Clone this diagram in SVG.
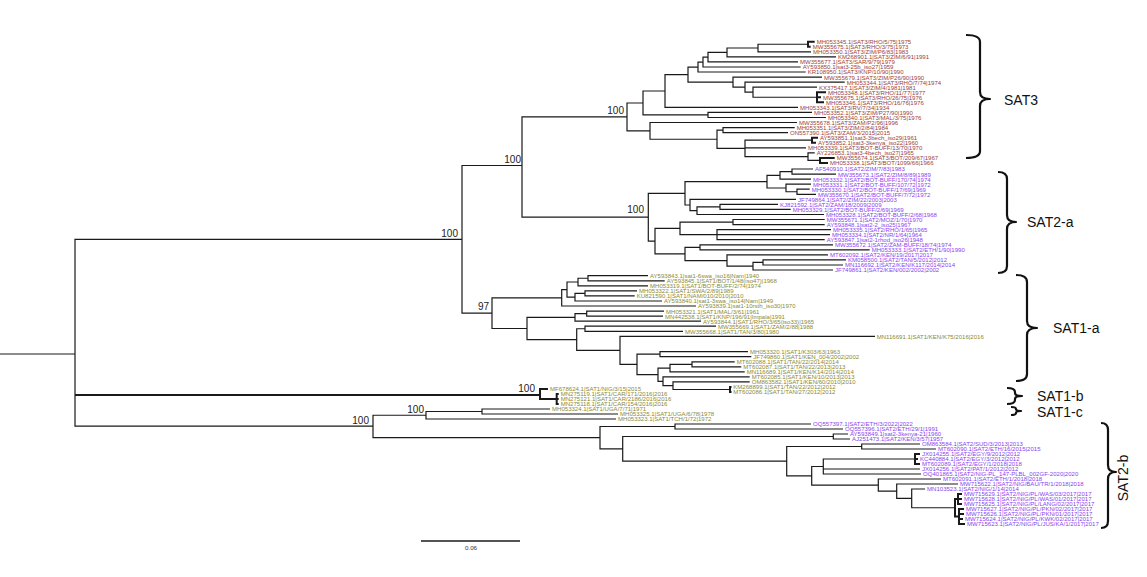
<svg xmlns="http://www.w3.org/2000/svg" width="1147" height="577" viewBox="0 0 1147 577">
<style>
.e{fill:none;stroke:#1a1a1a;stroke-width:1.2}
.t{fill:none;stroke:#1a1a1a;stroke-width:2}
.br{fill:none;stroke:#111;stroke-width:2.2;stroke-linejoin:round}
text{font-family:"Liberation Sans",Arial,sans-serif}
.l{font-size:6.05px}
.s3{fill:#9b3f3a}
.s2{fill:#8a44f0}
.s1{fill:#8c8a34}
.bs{font-size:10px;fill:#222;text-anchor:end}
.cl{font-size:14px;fill:#111}
.sc{font-size:6.2px;fill:#333;text-anchor:middle}
</style>
<rect width="1147" height="577" fill="#fff"/>
<g id="connectors">
<path class="e" d="M0 354H75M462 239.3H75V426.2H373"/>
<path class="t" d="M75 395H540"/>
<path class="e" d="M522 165.5H462V313.15H492M627 116.95H522V217.2H648.3"/>
<!-- SAT3 -->
<path class="e" d="M643 103H627V130.9H650M665 91H643V114.95H708M688 74.6H665V107.4H798M698 67.05H688V82.1H733M703 62.1H698V72H805.7M708 57.2H703V67H800.7M727 52.45H708V61.9H798M758 48H727V56.9H836M808 44.25H758V51.8H811"/>
<path class="t" d="M814.7 41.7H808V46.8H810.7"/>
<path class="e" d="M822 77.1H733V87.15H745M844.7 82.1H745V92.2H753M817 87.2H753V97.25H817M812 112.4H708V117.5H826"/>
<path class="t" d="M826 92.2H817V102.3H824M817 97.3H821"/>
<path class="e" d="M797 122.5H650V139.25H717M723 130.1H717V148.4H745M794.7 127.6H723V132.6H788M812 140.2H745V156.6H808M745 147.8H806M814.7 152.8H808V160.4H820"/>
<path class="t" d="M818 137.7H812V142.7H816M834.7 157.9H820V162.9H828"/>
<!-- SAT2-a -->
<path class="e" d="M685 193.3H648.3V241.15H655M680 228.4H655V253.9H685M767 181.65H685V205H690M780 175.3H767V188H786M792 171.55H780V179.1H811M813 169H792V174.1H836M811 184.2H786V191.75H797M809.7 189.2H797V194.3H816M796 199.3H690V210.7H697M720 206.9H697V214.5H824M778 204.4H720V209.4H790.7"/>
<path class="e" d="M733 222.05H680V234.7H717M824.7 219.5H733V224.6H824.7M831 229.6H717V239.7H824.7M717 234.7H830M700 247.3H685V260.55H727M833 244.8H700V249.8H869.7M828 254.9H727V266.2H753M763 262.45H753V270H833M846 259.9H763V265H843"/>
<!-- SAT1-a -->
<path class="e" d="M561.7 297.8H492V328.5H527M567 289.6H561.7V306H696M578 282H567V297.2H575M588 278.25H578V285.8H648M648 275.7H588V280.8H664.7M585 293.4H575V301H662M637 290.9H585V295.9H634.7"/>
<path class="e" d="M575 317.4H527V339.6H576.7M586.7 313.6H575V321.2H701M664 311.1H586.7V316.1H663M585 328.75H576.7V350.4H620M716 326.2H585V331.3H683M875 336.3H620V364.45H637"/>
<path class="e" d="M660 354.2H637V374.7H658M748 351.7H660V356.7H751.3M670 368.1H658V381.3H663M692 364.3H670V371.9H744.7M734.7 361.8H692V366.8H741.3M749.7 376.9H663V385.7H673M749.7 381.9H673V389.5H730"/>
<path class="t" d="M731.5 387H730V392H731.5"/>
<!-- SAT1-b / SAT1-c -->
<path class="t" d="M548 389H540V399H556.7"/>
<path class="t" d="M558.7 394H556.7V404H558.7M556.7 399H558.7"/>
<path class="e" d="M426 415.25H373V437.7H600M482 411.5H426V419H616M550 409H482V414H618"/>
<!-- SAT2-b -->
<path class="e" d="M675 426.5H600V448.9H622.7M811 424H675V429H843M833.3 436.5H622.7V461.2H786.7M848 434H833.3V439H850M861.7 446.5H786.7V475.8H811.7M920 444H861.7V449H936M823.3 466.5H811.7V485.1H878.3M915 459H823.3V474H921M823.3 469H920"/>
<path class="t" d="M920 454H915V464H920M915 459H918"/>
<path class="e" d="M941 479H878.3V491.2H896.7M958 484H896.7V498.4H911.7M925 489H911.7V507.75H955"/>
<path class="t" d="M958 499H955V516.5H959M962 494H958V504H962M958 499H962M964 509H959V524H965M959 514H964M959 519H963"/>
</g>
<g id="support">
<text class="bs" x="458" y="236.5">100</text>
<text class="bs" x="521" y="162.5">100</text>
<text class="bs" x="624" y="114">100</text>
<text class="bs" x="644" y="213">100</text>
<text class="bs" x="489" y="309.5">97</text>
<text class="bs" x="535" y="392">100</text>
<text class="bs" x="424" y="412.5">100</text>
<text class="bs" x="369" y="424">100</text>
</g>
<g id="sat3-leaves" class="l s3">
<g id="leaf01"><text x="816.7" y="44.1">MH053345.1|SAT3/RHO/5/75|1975</text></g>
<g id="leaf02"><text x="812.7" y="49.2">MW355675.1|SAT3/RHO/3/75|1973</text></g>
<g id="leaf03"><text x="813" y="54.2">MH053350.1|SAT3/ZIM/P6/83|1983</text></g>
<g id="leaf04"><text x="838" y="59.3">KM268901.1|SAT3/ZIM/6/91|1991</text></g>
<g id="leaf05"><text x="800" y="64.3">MW355677.1|SAT3/SAR/9/79|1979</text></g>
<g id="leaf06"><text x="802.7" y="69.4">AY593850.1|sat3-25b_iso27|1959</text></g>
<g id="leaf07"><text x="807.7" y="74.4">KR108950.1|SAT3/KNP/10/90|1990</text></g>
<g id="leaf08"><text x="824" y="79.5">MW355679.1|SAT3/ZIM/P26/90|1990</text></g>
<g id="leaf09"><text x="846.7" y="84.5">MH053344.1|SAT3/RHO/7/74|1974</text></g>
<g id="leaf10"><text x="819" y="89.6">KX375417.1|SAT3/ZIM/4/1981|1981</text></g>
<g id="leaf11"><text x="828" y="94.6">MH053348.1|SAT3/RHO/11/77|1977</text></g>
<g id="leaf12"><text x="823" y="99.7">MW355675.1|SAT3/RHO/26/75|1976</text></g>
<g id="leaf13"><text x="826" y="104.7">MH053346.1|SAT3/RHO/16/76|1976</text></g>
<g id="leaf14"><text x="800" y="109.8">MH053343.1|SAT3/RV/7/34|1934</text></g>
<g id="leaf15"><text x="814" y="114.8">MH053352.1|SAT3/ZIM/P27/90|1990</text></g>
<g id="leaf16"><text x="828" y="119.9">MH053340.1|SAT3/MAL/3/75|1976</text></g>
<g id="leaf17"><text x="799" y="124.9">MW355678.1|SAT3/ZAM/P2/96|1996</text></g>
<g id="leaf18"><text x="796.7" y="130">MH053351.1|SAT3/ZIM/2/84|1984</text></g>
<g id="leaf19"><text x="790" y="135">ON557390.1|SAT3/ZAM/3/2015|2015</text></g>
<g id="leaf20"><text x="820" y="140.1">AY593851.1|sat3-3bech_iso29|1961</text></g>
<g id="leaf21"><text x="818" y="145.1">AY593852.1|sat3-3kenya_iso22|1960</text></g>
<g id="leaf22"><text x="808" y="150.2">MH053339.1|SAT3/BOT-BUFF/13/70|1970</text></g>
<g id="leaf23"><text x="816.7" y="155.2">AY226853.1|sat3-4bech_iso27|1965</text></g>
<g id="leaf24"><text x="836.7" y="160.3">MW355674.1|SAT3/BOT/209/67|1967</text></g>
<g id="leaf25"><text x="830" y="165.3">MH053338.1|SAT3/BOT/1099/66|1966</text></g>
</g>
<g id="sat2a-leaves" class="l s2">
<g id="leaf26"><text x="815" y="171.4">AF540910.1|SAT2/ZIM/7/83|1983</text></g>
<g id="leaf27"><text x="838" y="176.5">MW355673.1|SAT2/ZIM/8/89|1989</text></g>
<g id="leaf28"><text x="813" y="181.5">MH053332.1|SAT2/BOT-BUFF/170/74|1974</text></g>
<g id="leaf29"><text x="813" y="186.6">MH053331.1|SAT2/BOT-BUFF/107/72|1972</text></g>
<g id="leaf30"><text x="811.7" y="191.6">MH053330.1|SAT2/BOT-BUFF/17/69|1969</text></g>
<g id="leaf31"><text x="818" y="196.7">MW355670.1|SAT2/BOT-BUFF/7/72|1972</text></g>
<g id="leaf32"><text x="798" y="201.7">JF749864.1|SAT2/ZIM/22/2003|2003</text></g>
<g id="leaf33"><text x="780" y="206.8">KJ821592.1|SAT2/ZAM/18/2009|2009</text></g>
<g id="leaf34"><text x="792.7" y="211.8">MH053329.1|SAT2/BOT-BUFF/2/69|1969</text></g>
<g id="leaf35"><text x="826" y="216.9">MH053328.1|SAT2/BOT-BUFF/2/68|1968</text></g>
<g id="leaf36"><text x="826.7" y="221.9">MW355671.1|SAT2/MOZ/1/70|1970</text></g>
<g id="leaf37"><text x="826.7" y="227">AY593848.1|sat2-2_iso25|1967</text></g>
<g id="leaf38"><text x="833" y="232">MH053335.1|SAT2/RHO/1/65|1965</text></g>
<g id="leaf39"><text x="832" y="237.1">MH053334.1|SAT2/NR/1/64|1964</text></g>
<g id="leaf40"><text x="826.7" y="242.1">AY593847.1|sat2-1rhod_iso26|1948</text></g>
<g id="leaf41"><text x="835" y="247.2">MW355672.1|SAT2/ZAM-BUFF/18/74|1974</text></g>
<g id="leaf42"><text x="871.7" y="252.2">MH053333.1|SAT2/ETH/1/90|1990</text></g>
<g id="leaf43"><text x="830" y="257.3">MT602092.1|SAT2/KEN/19/2017|2017</text></g>
<g id="leaf44"><text x="848" y="262.3">KM058500.1|SAT2/TAN/5/2012|2012</text></g>
<g id="leaf45"><text x="845" y="267.4">MN116692.1|SAT2/KEN/K117/2014|2014</text></g>
<g id="leaf46"><text x="835" y="272.4">JF749861.1|SAT2/KEN/002/2002|2002</text></g>
</g>
<g id="sat1a-leaves" class="l s1">
<g id="leaf47"><text x="650" y="278.1">AY593843.1|sat1-6swa_iso16|Nam|1940</text></g>
<g id="leaf48"><text x="666.7" y="283.2">AY593845.1|SAT1/BOT/1/48(iso47)|1968</text></g>
<g id="leaf49"><text x="650" y="288.2">MH053319.1|SAT1/BOT-BUFF/2/74|1974</text></g>
<g id="leaf50"><text x="639" y="293.3">MH053322.1|SAT1/SWA/2/89|1989</text></g>
<g id="leaf51"><text x="636.7" y="298.3">KU821590.1|SAT1/NAM/010/2010|2010</text></g>
<g id="leaf52"><text x="664" y="303.4">AY593840.1|sat1-3swa_iso14|Nam|1949</text></g>
<g id="leaf53"><text x="698" y="308.4">AY593839.1|sat1-10rsth_iso30|1970</text></g>
<g id="leaf54"><text x="666" y="313.5">MH053321.1|SAT1/MAL/3/61|1961</text></g>
<g id="leaf55"><text x="665" y="318.5">MN442538.1|SAT1/KNP/196/91|Impala|1991</text></g>
<g id="leaf56"><text x="703" y="323.6">AY593844.1|SAT1/RHO/3/65(iso33)|1965</text></g>
<g id="leaf57"><text x="718" y="328.6">MW355669.1|SAT1/ZAM/2/88|1988</text></g>
<g id="leaf58"><text x="685" y="333.7">MW355668.1|SAT1/TAN/3/80|1980</text></g>
<g id="leaf59"><text x="876.7" y="338.7">MN116691.1|SAT1/KEN/K75/2016|2016</text></g>
<g id="leaf60"><text x="750" y="354.1">MH053320.1|SAT1/K303/63|1963</text></g>
<g id="leaf61"><text x="753.3" y="359.1">JF749860.1|SAT1/KEN_004/2002|2002</text></g>
<g id="leaf62"><text x="736.7" y="364.2">MT602088.1|SAT1/TAN/22/2014|2014</text></g>
<g id="leaf63"><text x="743.3" y="369.2">MT602087.1|SAT1/TAN/22/2013|2013</text></g>
<g id="leaf64"><text x="746.7" y="374.3">MN116689.1|SAT1/KEN/K14/2014|2014</text></g>
<g id="leaf65"><text x="751.7" y="379.3">MT602085.1|SAT1/KEN/10/2013|2013</text></g>
<g id="leaf66"><text x="751.7" y="384.3">OM863582.1|SAT1/KEN/60/2010|2010</text></g>
<g id="leaf67"><text x="733.3" y="389.4">KM268899.1|SAT1/TAN/22/2012|2012</text></g>
<g id="leaf68"><text x="733.3" y="394.4">MT602086.1|SAT1/TAN/27/2012|2012</text></g>
</g>
<g id="sat1bc-leaves" class="l s1">
<g id="leaf69"><text x="550" y="391.4">MF678624.1|SAT1/NIG/3/15|2015</text></g>
<g id="leaf70"><text x="560.7" y="396.4">MN275119.1|SAT1/CAR/171/2016|2016</text></g>
<g id="leaf71"><text x="560.7" y="401.4">MN275121.1|SAT1/CAR/2186/2016|2016</text></g>
<g id="leaf72"><text x="560.7" y="406.4">MN275118.1|SAT1/CAR/154/2016|2016</text></g>
<g id="leaf73"><text x="552" y="411.4">MH053324.1|SAT1/UGA/7/71|1971</text></g>
<g id="leaf74"><text x="620" y="416.4">MH053325.1|SAT1/UGA/6/78|1978</text></g>
<g id="leaf75"><text x="618" y="421.4">MH053323.1|SAT1/TCH/1/72|1972</text></g>
</g>
<g id="sat2b-leaves" class="l s2">
<g id="leaf76"><text x="813" y="426.4">OQ557397.1|SAT2/ETH/3/2022|2022</text></g>
<g id="leaf77"><text x="845" y="431.4">OQ557396.1|SAT2/ETH/29/1|1991</text></g>
<g id="leaf78"><text x="850" y="436.4">AY593849.1|sat2-3kenya-21|1960</text></g>
<g id="leaf79"><text x="852" y="441.4">AJ251473.1|SAT2/KEN/3/57|1957</text></g>
<g id="leaf80"><text x="922" y="446.4">OM863584.1|SAT2/SUD/3/2013|2013</text></g>
<g id="leaf81"><text x="938" y="451.4">MT602090.1|SAT2/ETH/16/2015|2015</text></g>
<g id="leaf82"><text x="922" y="456.4">JX014255.1|SAT2/EGY/9/2012|2012</text></g>
<g id="leaf83"><text x="920" y="461.4">KC440884.1|SAT2/EGY/3/2012|2012</text></g>
<g id="leaf84"><text x="922" y="466.4">MT602089.1|SAT2/EGY/1/2018|2018</text></g>
<g id="leaf85"><text x="922" y="471.4">JX014256.1|SAT2/PAT/1/2012|2012</text></g>
<g id="leaf86"><text x="923" y="476.4">OQ401865.1|SAT2/NIG-PL_147-PLBL_002GF-2020|2020</text></g>
<g id="leaf87"><text x="943" y="481.4">MT602091.1|SAT2/ETH/1/2018|2018</text></g>
<g id="leaf88"><text x="960" y="486.4">MW715622.1|SAT2/NIG/BAU/TR/1/2018|2018</text></g>
<g id="leaf89"><text x="927" y="491.4">MN103523.1|SAT2/NIG/1/14|2014</text></g>
<g id="leaf90"><text x="964" y="496.4">MW715629.1|SAT2/NIG/PL/WAS/03/2017|2017</text></g>
<g id="leaf91"><text x="964" y="501.4">MW715628.1|SAT2/NIG/PL/WAS/01/2017|2017</text></g>
<g id="leaf92"><text x="964" y="506.4">MW715625.1|SAT2/NIG/PL/LANG/02/2017|2017</text></g>
<g id="leaf93"><text x="966" y="511.4">MW715627.1|SAT2/NIG/PL/PKN/02/2017|2017</text></g>
<g id="leaf94"><text x="966" y="516.4">MW715626.1|SAT2/NIG/PL/PKN/01/2017|2017</text></g>
<g id="leaf95"><text x="965" y="521.4">MW715624.1|SAT2/NIG/PL/KWK/02/2017|2017</text></g>
<g id="leaf96"><text x="967" y="526.4">MW715623.1|SAT2/NIG/PL/JUS/KA/1/2017|2017</text></g>
</g>
<g id="clade-SAT3"><path class="br" d="M966 35Q980 35 980 42V92Q980 99 990 99Q980 99 980 106V151Q980 158 966 158"/><text class="cl" x="1004" y="104.5">SAT3</text></g>
<g id="clade-SAT2-a"><path class="br" d="M998 172Q1007 172 1007 179V215Q1007 222 1016 222Q1007 222 1007 229V266Q1007 273 998 273"/><text class="cl" x="1027" y="227">SAT2-a</text></g>
<g id="clade-SAT1-a"><path class="br" d="M1016 275Q1027 275 1027 282V321Q1027 328 1037 328Q1027 328 1027 335V374Q1027 381 1016 381"/><text class="cl" x="1053" y="333">SAT1-a</text></g>
<g id="clade-SAT1-b"><path class="br" d="M1007 388Q1015 388 1015 392V393Q1015 396 1022 396Q1015 396 1015 399V400Q1015 404 1007 404"/><text class="cl" x="1037" y="401">SAT1-b</text></g>
<g id="clade-SAT1-c"><path class="br" d="M1011 407Q1016 407 1016 409Q1016 411 1021 411Q1016 411 1016 413Q1016 415 1011 415"/><text class="cl" x="1037" y="417">SAT1-c</text></g>
<g id="clade-SAT2-b"><path class="br" d="M1101 423Q1108 423 1108 430V465Q1108 472 1116 472Q1108 472 1108 479V521Q1108 528 1101 528"/><text class="cl" text-anchor="middle" transform="translate(1128 478) rotate(-90)">SAT2-b</text></g>
<g id="scale"><path class="e" d="M421 541H520" style="stroke-width:1.5"/><text class="sc" x="471" y="550">0.06</text></g>
</svg>
